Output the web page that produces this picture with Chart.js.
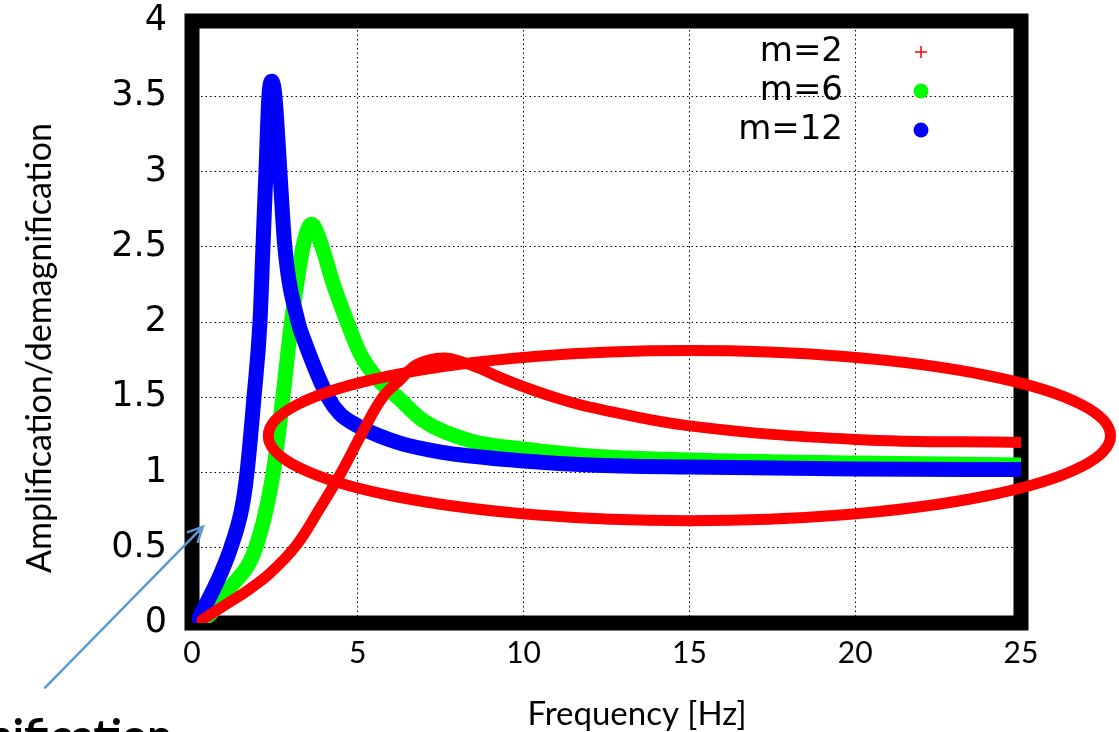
<!DOCTYPE html>
<html>
<head>
<meta charset="utf-8">
<title>Amplification vs frequency</title>
<script src="https://cdn.jsdelivr.net/npm/chart.js@4.4.1/dist/chart.umd.min.js"></script>
<style>
  html, body { margin: 0; padding: 0; background: #fff; }
  #wrap { width: 1119px; height: 732px; position: relative; }
</style>
</head>
<body>
<div id="wrap"><canvas id="myChart"></canvas></div>
<script>
// values (frequency in Hz, amplification)
const freqM2 = [0.3, 1.0, 1.7, 2.35, 3.16, 3.85, 4.5, 5.1, 5.75, 6.3, 6.8, 7.6, 8.2, 8.7, 9.3, 10, 11, 12, 15, 20, 25];
const ampM2 = [0.02, 0.12, 0.22, 0.33, 0.52, 0.76, 1.0, 1.25, 1.5, 1.62, 1.72, 1.76, 1.73, 1.69, 1.63, 1.57, 1.495, 1.435, 1.31, 1.22, 1.2];

const freqM6 = [0.3, 0.6, 1.1, 1.92, 2.45, 2.74, 3.0, 3.35, 3.6, 3.92, 4.25, 4.68, 5.07, 5.6, 6.2, 7.0, 8.4, 10, 12, 15, 20, 25];
const ampM6 = [0.02, 0.07, 0.22, 0.5, 1.0, 1.5, 2.0, 2.5, 2.65, 2.5, 2.26, 2.0, 1.79, 1.62, 1.5, 1.34, 1.21, 1.156, 1.11, 1.083, 1.063, 1.05];

const freqM12 = [0.2, 0.64, 0.87, 1.17, 1.51, 1.66, 1.87, 2.05, 2.14, 2.23, 2.32, 2.41, 2.5, 2.65, 2.8, 3.2, 3.38, 4.1, 4.46, 5, 6.27, 7.5, 8.4, 10, 12, 15, 20, 25];
const ampM12 = [0.03, 0.22, 0.33, 0.5, 0.77, 1.0, 1.5, 2.0, 2.5, 3.0, 3.5, 3.6, 3.5, 3.0, 2.5, 2.0, 1.88, 1.5, 1.39, 1.31, 1.195, 1.136, 1.11, 1.077, 1.05, 1.036, 1.023, 1.02];

const seriesLabels = ["m=2", "m=6", "m=12"];
const xTicks = [0, 5, 10, 15, 20, 25];
const yTicks = [0, 0.5, 1, 1.5, 2, 2.5, 3, 3.5, 4];

const xTitle = "Frequency [Hz]";
const yTitle = "Amplification/demagnification";
const noteText = "Magnification";

const toPoints = (xs, ys) => xs.map((x, i) => ({ x: x, y: ys[i] }));

// red ring and arrow of the slide, in data units
const ring = { x: 15, y: 1.245, rx: 12.7, ry: 0.565 };
const arrowFrom = { x: -4.43, y: -0.43 };
const arrowTo = { x: 0.33, y: 0.64 };

const tickFontY = { family: "'DejaVu Sans', sans-serif", size: 35 };
const tickFontX = { family: "Lato, sans-serif", size: 30 };

const slidePlugin = {
  id: "slide",
  beforeDatasetsDraw(chart) {
    // heavy gnuplot frame
    const { ctx, chartArea: a } = chart;
    ctx.save();
    ctx.strokeStyle = "#000";
    ctx.lineWidth = 15;
    ctx.lineJoin = "miter";
    ctx.strokeRect(a.left, a.top, a.right - a.left, a.bottom - a.top);
    ctx.restore();
  },
  afterDraw(chart) {
    const { ctx, chartArea: a } = chart;
    const xs = chart.scales.x;
    const ys = chart.scales.y;
    ctx.save();

    // key, text right of the frame's inner side
    ctx.font = "34px 'DejaVu Sans', sans-serif";
    ctx.textAlign = "right";
    ctx.textBaseline = "middle";
    chart.data.datasets.forEach((ds, i) => {
      const y = a.top + 31 + i * 39;
      ctx.fillStyle = "#000";
      ctx.fillText(ds.label, a.right - 178, y);
      const mx = a.right - 100;
      if (ds.pointStyle === "cross") {
        ctx.strokeStyle = ds.borderColor;
        ctx.lineWidth = 1.5;
        ctx.beginPath();
        ctx.moveTo(mx - 6, y);
        ctx.lineTo(mx + 6, y);
        ctx.moveTo(mx, y - 6);
        ctx.lineTo(mx, y + 6);
        ctx.stroke();
      } else {
        ctx.fillStyle = ds.borderColor;
        ctx.beginPath();
        ctx.arc(mx, y, 7.5, 0, Math.PI * 2);
        ctx.fill();
      }
    });

    // red ring
    const cx = xs.getPixelForValue(ring.x);
    const cy = ys.getPixelForValue(ring.y);
    const rx = xs.getPixelForValue(ring.x + ring.rx) - cx;
    const ry = cy - ys.getPixelForValue(ring.y + ring.ry);
    ctx.strokeStyle = "#ff0000";
    ctx.lineWidth = 11;
    ctx.beginPath();
    ctx.ellipse(cx, cy, rx, ry, 0, 0, Math.PI * 2);
    ctx.stroke();

    // arrow
    const x0 = xs.getPixelForValue(arrowFrom.x);
    const y0 = ys.getPixelForValue(arrowFrom.y);
    const x1 = xs.getPixelForValue(arrowTo.x);
    const y1 = ys.getPixelForValue(arrowTo.y);
    const ang = Math.atan2(y1 - y0, x1 - x0);
    ctx.strokeStyle = "#5b9bd5";
    ctx.lineWidth = 2.5;
    ctx.lineCap = "round";
    ctx.beginPath();
    ctx.moveTo(x0, y0);
    ctx.lineTo(x1, y1);
    ctx.moveTo(x1 - 16 * Math.cos(ang - 0.45), y1 - 16 * Math.sin(ang - 0.45));
    ctx.lineTo(x1, y1);
    ctx.lineTo(x1 - 16 * Math.cos(ang + 0.45), y1 - 16 * Math.sin(ang + 0.45));
    ctx.stroke();

    // axis titles
    ctx.fillStyle = "#000";
    ctx.textAlign = "center";
    ctx.textBaseline = "middle";
    ctx.font = "33px Lato, sans-serif";
    ctx.fillText(xTitle, 637, 714);
    ctx.save();
    ctx.translate(40, 348);
    ctx.rotate(-Math.PI / 2);
    ctx.font = "34px Lato, sans-serif";
    ctx.fillText(yTitle, 0, 0);
    ctx.restore();

    // slide text cut by the bottom edge
    ctx.font = "bold 44px Lato, sans-serif";
    ctx.textAlign = "right";
    ctx.textBaseline = "alphabetic";
    ctx.fillText(noteText, 172, 751);

    ctx.restore();
  },
};

const ctx = document.getElementById("myChart");

new Chart(ctx, {
  type: "scatter",
  data: {
    datasets: [
      {
        label: seriesLabels[0],
        data: toPoints(freqM2, ampM2),
        borderColor: "#ff0000",
        borderWidth: 11,
        pointStyle: "cross",
        cubicInterpolationMode: "default",
        tension: 0.4,
        order: 0,
      },
      {
        label: seriesLabels[1],
        data: toPoints(freqM6, ampM6),
        borderColor: "#00ff00",
        borderWidth: 15,
        pointStyle: "circle",
        order: 2,
      },
      {
        label: seriesLabels[2],
        data: toPoints(freqM12, ampM12),
        borderColor: "#0000ff",
        borderWidth: 15,
        pointStyle: "circle",
        order: 1,
      },
    ],
  },
  options: {
    responsive: true,
    maintainAspectRatio: false,
    animation: false,
    showLine: true,
    elements: {
      point: { radius: 0, hoverRadius: 0 },
      line: { cubicInterpolationMode: "monotone", borderCapStyle: "round", borderJoinStyle: "round", fill: false },
    },
    layout: { padding: { top: 21, right: 98, left: 0, bottom: 0 } },
    plugins: {
      legend: { display: false },
      tooltip: { enabled: false },
    },
    scales: {
      x: {
        type: "linear",
        position: "bottom",
        min: 0,
        max: 25,
        afterBuildTicks: (scale) => {
          scale.ticks = xTicks.map((v) => ({ value: v }));
        },
        afterFit: (scale) => {
          scale.height = 109;
        },
        // gap between frame and labels comes from invisible tick marks
        grid: { color: "#000", lineWidth: 1, drawTicks: true, tickLength: 12, tickColor: "rgba(0,0,0,0)" },
        border: { display: false, dash: [1.5, 3] },
        ticks: { font: tickFontX, color: "#000", padding: 0, maxRotation: 0, callback: (v) => String(v) },
      },
      y: {
        type: "linear",
        position: "left",
        min: 0,
        max: 4,
        afterBuildTicks: (scale) => {
          scale.ticks = yTicks.map((v) => ({ value: v }));
        },
        afterFit: (scale) => {
          scale.width = 192;
        },
        grid: { color: "#000", lineWidth: 1, drawTicks: true, tickLength: 25, tickColor: "rgba(0,0,0,0)" },
        border: { display: false, dash: [1.5, 3] },
        ticks: { font: tickFontY, color: "#000", padding: 0, callback: (v) => String(v) },
      },
    },
  },
  plugins: [slidePlugin],
});
</script>
</body>
</html>
